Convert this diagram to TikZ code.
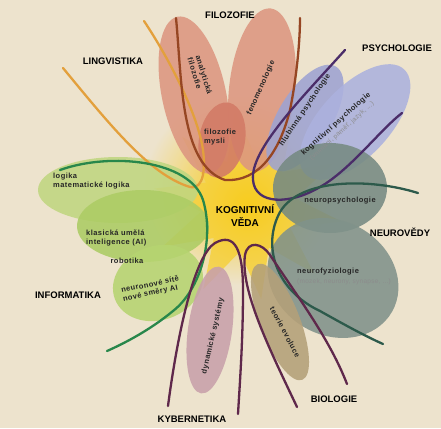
\documentclass[tikz,border=0pt]{standalone}
\usepackage{fontspec}
\setmainfont{Liberation Sans}
\usepackage{tikz}
\usetikzlibrary{shapes.geometric}

\definecolor{bgbeige}{RGB}{237,227,205}
\definecolor{sunyellow}{RGB}{247,204,30}
\definecolor{salmon}{RGB}{220,150,128}
\definecolor{salmondark}{RGB}{210,122,102}
\definecolor{lavdeep}{RGB}{158,163,210}
\definecolor{lavlight}{RGB}{172,177,222}
\definecolor{greygreen}{RGB}{118,138,130}
\definecolor{greygreenl}{RGB}{128,146,138}
\definecolor{limea}{RGB}{192,214,128}
\definecolor{limeb}{RGB}{172,204,100}
\definecolor{limec}{RGB}{182,212,112}
\definecolor{rosegrey}{RGB}{200,160,170}
\definecolor{tan}{RGB}{180,160,120}
\definecolor{lineorange}{RGB}{227,160,60}
\definecolor{linebrown}{RGB}{150,70,35}
\definecolor{linepurple}{RGB}{75,45,105}
\definecolor{linedkgreen}{RGB}{45,90,75}
\definecolor{linegreen}{RGB}{40,135,75}
\definecolor{linemaroon}{RGB}{95,40,75}

\begin{document}
\begin{tikzpicture}[x=1pt,y=-1pt]
	\tikzstyle{field} = [font=\bfseries\fontsize{9.5}{11}\selectfont, text=black, inner sep=1pt]
	\tikzstyle{sub} = [font=\bfseries\fontsize{7.5}{8.5}\selectfont\addfontfeature{LetterSpace=6}, text=black!85, inner sep=0pt]
	\tikzstyle{note} = [font=\fontsize{6.5}{7.5}\selectfont\addfontfeature{LetterSpace=4}, text=black!45, inner sep=0pt]
	\tikzstyle{petal} = [opacity=0.88]
	\tikzstyle{thread} = [line width=2.3pt, line cap=round]
	
	\fill[bgbeige] (0,0) rectangle (441,428);
	\useasboundingbox (0,0) rectangle (441,428);
	
	% yellow centre
	\shade[inner color=sunyellow, outer color=bgbeige] (238,190) circle [radius=95];
	\node [star, star points=10, star point ratio=2, minimum size=190pt, inner color=sunyellow, outer color=sunyellow!60!bgbeige, rotate=8] (sun) at (248,205) {};
	
	% informatika
	\fill[petal, limea] (118,190) ellipse [x radius=80, y radius=33];
	\fill[petal, limeb] (143,226) ellipse [x radius=66, y radius=36];
	\fill[petal, limec, rotate around={20:(158,283)}] (158,283) ellipse [x radius=46, y radius=37];
	
	% filozofie
	\fill[petal, salmon, rotate around={-78:(194,95)}] (194,95) ellipse [x radius=80, y radius=32];
	\fill[petal, salmon, rotate around={84:(262,90)}] (262,90) ellipse [x radius=82, y radius=33];
	\fill[petal, salmondark, rotate around={-10:(222,140)}] (222,140) ellipse [x radius=23, y radius=38];
	
	% psychologie
	\fill[petal, lavdeep, rotate around={59:(305,118)}] (305,118) ellipse [x radius=60, y radius=27];
	\fill[petal, lavlight, rotate around={47:(355,122)}] (355,122) ellipse [x radius=72, y radius=35];
	
	% neurovedy
	\fill[petal, greygreen] (330,188) ellipse [x radius=57, y radius=45];
	\fill[petal, greygreenl, rotate around={-30:(333,278)}] (333,278) ellipse [x radius=68, y radius=57];
	
	% kybernetika, biologie
	\fill[petal, rosegrey, rotate around={82:(210,330)}] (210,330) ellipse [x radius=64, y radius=22];
	\fill[petal, tan, rotate around={-69:(280,322)}] (280,322) ellipse [x radius=62, y radius=20];
	
	% vlakna oboru
	\draw [thread, lineorange] (63,68) .. controls (110,125) and (150,175) .. (190,187) .. controls (205,190) and (205,165) .. (203,150) .. controls (198,115) and (170,60) .. (144,21);
	\draw [thread, linebrown] (176,18) .. controls (182,80) and (180,165) .. (225,180) .. controls (260,182) and (280,150) .. (290,110) .. controls (297,75) and (300,40) .. (300,18);
	\draw [thread, linepurple] (345,50) .. controls (300,100) and (250,150) .. (253,180) .. controls (255,205) and (290,205) .. (320,187) .. controls (350,170) and (380,130) .. (402,113);
	\draw [thread, linedkgreen] (418,193) .. controls (370,178) and (300,178) .. (280,212) .. controls (262,245) and (275,290) .. (320,311) .. controls (345,325) and (365,336) .. (383,344);
	\draw [thread, linegreen] (60,170) .. controls (110,152) and (190,160) .. (203,200) .. controls (215,240) and (200,290) .. (173,311) .. controls (150,330) and (125,343) .. (107,351);
	\draw [thread, linemaroon] (168,406) .. controls (178,330) and (195,255) .. (215,243) .. controls (235,232) and (243,250) .. (243,290) .. controls (243,340) and (240,380) .. (238,414);
	\draw [thread, linemaroon] (297,407) .. controls (270,350) and (240,290) .. (245,255) .. controls (248,240) and (262,243) .. (270,255) .. controls (300,300) and (330,340) .. (347,384);
	
	% obory
	\node [field] (filozofie) at (230,15) {FILOZOFIE};
	\node [field] (lingvistika) at (113,61) {LINGVISTIKA};
	\node [field] (psychologie) at (397,48) {PSYCHOLOGIE};
	\node [field] (neurovedy) at (400,232) {NEUROVĚDY};
	\node [field] (informatika) at (68,295) {INFORMATIKA};
	\node [field] (kybernetika) at (192,419) {KYBERNETIKA};
	\node [field] (biologie) at (334,399) {BIOLOGIE};
	\node [field, align=center, font=\bfseries\fontsize{10}{13}\selectfont] (kv) at (245,216) {KOGNITIVNÍ\\VĚDA};
	
	% podobory
	\node [sub, align=left, rotate=-73] (analyticka) at (200,76) {analytická\\filozofie};
	\node [sub, rotate=66] (fenomenologie) at (261,88) {fenomenologie};
	\node [sub, align=left] (mysli) at (220,137) {filozofie\\mysli};
	\node [sub, rotate=56] (hlubinna) at (305,110) {hlubinná psychologie};
	\node [sub, rotate=42] (kogpsych) at (336,124) {kognitivní psychologie};
	\node [note, rotate=42] (kogpsychnote) at (342,131) {(vnímání, paměť, jazyk, ...)};
	\node [sub] (neuropsych) at (340,201) {neuropsychologie};
	\node [sub, anchor=west] (neurofyz) at (297,272) {neurofyziologie};
	\node [note, anchor=north west] (neurofyznote) at (297,279) {(mozek, neurony, synapse, ...)};
	\node [sub, align=left, anchor=west] (logika) at (53,181) {logika\\matematické logika};
	\node [sub, align=left, anchor=west] (klasicka) at (86,238) {klasická umělá\\inteligence (AI)};
	\node [sub] (robotika) at (127,261) {robotika};
	\node [sub, align=left, rotate=12] (neuronove) at (151,289) {neuronové sítě\\nové směry AI};
	\node [sub, rotate=77] (dynamicke) at (213,336) {dynamické systémy};
	\node [sub, rotate=-62] (evoluce) at (285,332) {teorie evoluce};
\end{tikzpicture}
\end{document}
